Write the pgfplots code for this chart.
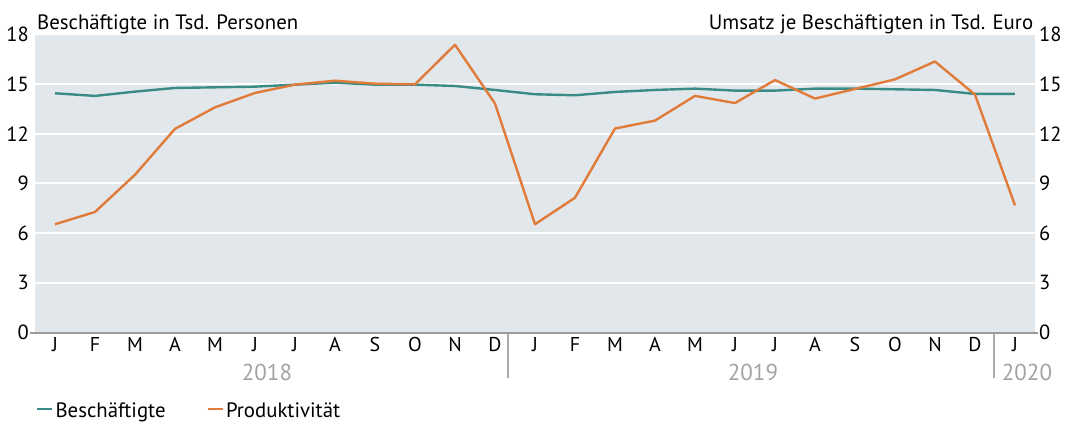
\documentclass[border=0pt]{standalone}
\usepackage{fontspec}
\setmainfont{PT Sans}
\usepackage{pgfplots}
\pgfplotsset{compat=1.18}
\usetikzlibrary{calc}
\definecolor{bgc}{HTML}{E2E7EB}
\definecolor{tealc}{HTML}{3A8A86}
\definecolor{orangec}{HTML}{E07B39}
\definecolor{axgray}{HTML}{9B9B9B}
\definecolor{yeargray}{HTML}{A3A3A3}
\begin{document}
\fontsize{20.8bp}{24bp}\selectfont
\begin{tikzpicture}
\begin{axis}[
  name=ax,
  at={(0,0)}, anchor=south west,
  scale only axis, width=1000bp, height=298bp,
  xmin=-0.5, xmax=24.5, ymin=0, ymax=18,
  clip=false,
  axis background/.style={fill=bgc},
  axis line style={draw=none},
  major tick length=0pt,
  ytick={0,3,...,18},
  ymajorgrids, grid style={white, line width=2bp},
  xtick={0,...,24},
  xticklabels={J,F,M,A,M,J,J,A,S,O,N,D,J,F,M,A,M,J,J,A,S,O,N,D,J},
  xticklabel style={inner sep=0pt, anchor=north, yshift=-5bp, font=\fontsize{20bp}{24bp}\selectfont},
  yticklabel style={inner sep=0pt, anchor=east, xshift=-6bp, font=\fontsize{20.5bp}{24bp}\selectfont},
  /pgf/number format/assume math mode=true,
  legend columns=2,
  legend style={at={(rel axis cs:0.001,-0.266)}, anchor=west, draw=none, fill=none, inner sep=0pt,
     font=\fontsize{20.8bp}{24bp}\selectfont,
     /tikz/every odd column/.append style={column sep=0bp},
     /tikz/every even column/.append style={column sep=39bp}},
  legend cell align=left,
  legend image code/.code={\draw[#1] (0bp,3bp) -- (15bp,3bp);},
]
\addplot[tealc, line width=2.4bp, line join=round] coordinates {
(0,14.45) (1,14.29) (2,14.55) (3,14.77) (4,14.81) (5,14.85) (6,14.97) (7,15.09) (8,14.97) (9,14.97) (10,14.89) (11,14.65)
(12,14.39) (13,14.33) (14,14.53) (15,14.65) (16,14.73) (17,14.61) (18,14.61) (19,14.73) (20,14.73) (21,14.69) (22,14.65) (23,14.41) (24,14.41)};
\addlegendentry{Beschäftigte}
\addplot[orangec, line width=2.4bp, line join=round] coordinates {
(0,6.54) (1,7.28) (2,9.53) (3,12.30) (4,13.60) (5,14.47) (6,14.97) (7,15.21) (8,15.03) (9,14.99) (10,17.38) (11,13.83)
(12,6.54) (13,8.14) (14,12.32) (15,12.80) (16,14.29) (17,13.86) (18,15.25) (19,14.13) (20,14.71) (21,15.29) (22,16.37) (23,14.37) (24,7.68)};
\addlegendentry{Produktivität}
\draw[axgray, line width=2bp] (axis cs:-0.625,0) -- (axis cs:24.575,0);
\draw[axgray!85, line width=2bp] (axis cs:11.33,0) -- (axis cs:11.33,-2.75);
\draw[axgray!85, line width=2bp] (axis cs:23.47,0) -- (axis cs:23.47,-2.75);
\node[yeargray, inner sep=0pt, font=\fontsize{23bp}{26bp}\selectfont] at (axis cs:5.3,-2.4) {2018};
\node[yeargray, inner sep=0pt, font=\fontsize{23bp}{26bp}\selectfont] at (axis cs:17.45,-2.4) {2019};
\node[yeargray, inner sep=0pt, font=\fontsize{23bp}{26bp}\selectfont] at (axis cs:24.3,-2.4) {2020};
\node[anchor=base west, inner sep=0pt] at (axis cs:-0.45,18.32) {Beschäftigte in Tsd. Personen};
\node[anchor=base east, inner sep=0pt] at (axis cs:24.46,18.32) {Umsatz je Beschäftigten in Tsd. Euro};
\end{axis}
\begin{axis}[
  at={(0,0)}, anchor=south west,
  scale only axis, width=1000bp, height=298bp,
  xmin=-0.5, xmax=24.5, ymin=0, ymax=18,
  axis y line*=right, axis x line=none,
  y axis line style={draw=none},
  major tick length=0pt,
  ytick={0,3,...,18},
  yticklabel style={inner sep=0pt, anchor=west, xshift=4bp, font=\fontsize{20.5bp}{24bp}\selectfont},
  /pgf/number format/assume math mode=true,
]
\addplot[draw=none] coordinates {(0,0)};
\end{axis}
\pgfresetboundingbox
\path ($(ax.south west)+(-35bp,-90.5bp)$) rectangle ++(1069bp,423bp);
\end{tikzpicture}
\end{document}
